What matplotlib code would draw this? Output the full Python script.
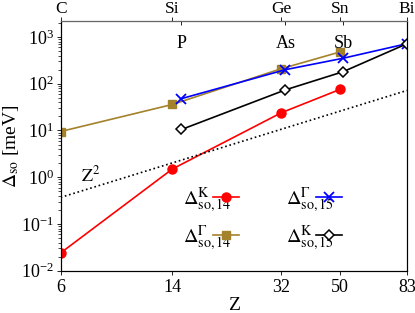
import numpy as np
import matplotlib
matplotlib.use('Agg')
import matplotlib.pyplot as plt
from matplotlib.ticker import FixedLocator, FixedFormatter, NullFormatter, LogLocator

plt.rcParams['font.family'] = 'Liberation Serif'
plt.rcParams['mathtext.fontset'] = 'stix'
plt.rcParams['font.size'] = 13

# ------------------------------------------ data
z14 = [6, 14, 32, 50]          # C, Si, Ge, Sn
z15 = [15, 33, 51, 83]         # P, As, Sb, Bi
k14 = [0.024, 1.5, 24, 76]
g14 = [9.5, 36, 210, 480]
g15 = [48, 200, 350, 720]
k15 = [10.5, 74, 180, 720]
z2_x = [6, 83]
z2_y = [0.37, 72]

top_ticks = [6, 14, 32, 50, 83]
top_labels = ['C', 'Si', 'Ge', 'Sn', 'Bi']
inner_ticks = [15, 33, 51]
inner_labels = ['P', 'As', 'Sb']
bottom_ticks = [6, 14, 32, 50, 83]

# ------------------------------------------ figure
fig = plt.figure(figsize=(4.15, 3.13), dpi=100)
ax = fig.add_axes([0.146, 0.135, 0.835, 0.798])

gold = '#a3822b'
l1, = ax.plot(z14, k14, '-o', color='red', ms=6.5, lw=1.2, label=r'$\Delta^{\rm K}_{\rm so,14}$')
l2, = ax.plot(z14, g14, '-s', color=gold, ms=6, lw=1.2, label=r'$\Delta^{\Gamma}_{\rm so,14}$')
l3, = ax.plot(z15, g15, '-x', color='blue', ms=7, mew=1.3, lw=1.2, label=r'$\Delta^{\Gamma}_{\rm so,15}$')
l4, = ax.plot(z15, k15, '-D', color='black', mfc='white', ms=5, mew=1.1, lw=1.2, label=r'$\Delta^{\rm K}_{\rm so,15}$')
ax.plot(z2_x, z2_y, ':', color='black', lw=1.2)
ax.text(7.0, 0.8, r'$\rm Z^2$', fontsize=13)

ax.set_xscale('log'); ax.set_yscale('log')
ax.set_xlim(6, 83)
ax.set_ylim(1e-2, 2200)

ax.xaxis.set_major_locator(FixedLocator(bottom_ticks))
ax.xaxis.set_minor_locator(FixedLocator([]))
ax.set_xticklabels([str(t) for t in bottom_ticks])
ax.xaxis.set_minor_formatter(NullFormatter())
ax.tick_params(axis='x', which='major', direction='out', length=3, width=0.6, pad=3)

ax.yaxis.set_major_locator(LogLocator(base=10, numticks=10))
ax.yaxis.set_minor_locator(LogLocator(base=10, subs=np.arange(2, 10), numticks=10))
ax.yaxis.set_minor_formatter(NullFormatter())
ax.tick_params(axis='y', which='major', direction='out', length=3, width=0.6, pad=2)
ax.tick_params(axis='y', which='minor', direction='out', length=2, width=0.5)

ax.set_xlabel('Z', fontsize=14, labelpad=1)
ax.set_ylabel(r'$\Delta_{\rm so}$ [meV]', fontsize=14, labelpad=0)

# top axis: group-14 elements outside, group-15 elements inside
top = ax.twiny()
top.set_xscale('log')
top.set_xlim(ax.get_xlim())
top.xaxis.set_major_locator(FixedLocator(top_ticks))
top.set_xticklabels(top_labels)
top.xaxis.set_minor_locator(FixedLocator(inner_ticks))
top.xaxis.set_minor_formatter(FixedFormatter(inner_labels))
top.tick_params(axis='x', which='major', direction='out', length=3, width=0.6, pad=0, labelsize=12.5)
top.tick_params(axis='x', which='minor', direction='in', length=3, width=0.6, pad=-22, labelsize=13)
top.spines['top'].set_color('0.4')

ax.legend(handles=[l1, l2, l3, l4], ncol=2, frameon=False, markerfirst=False,
          loc='lower left', bbox_to_anchor=(0.30, 0.0), fontsize=14.5,
          handlelength=1.3, columnspacing=2.3, labelspacing=0.4, handletextpad=-0.9)

fig.savefig('out.png', dpi=100)
